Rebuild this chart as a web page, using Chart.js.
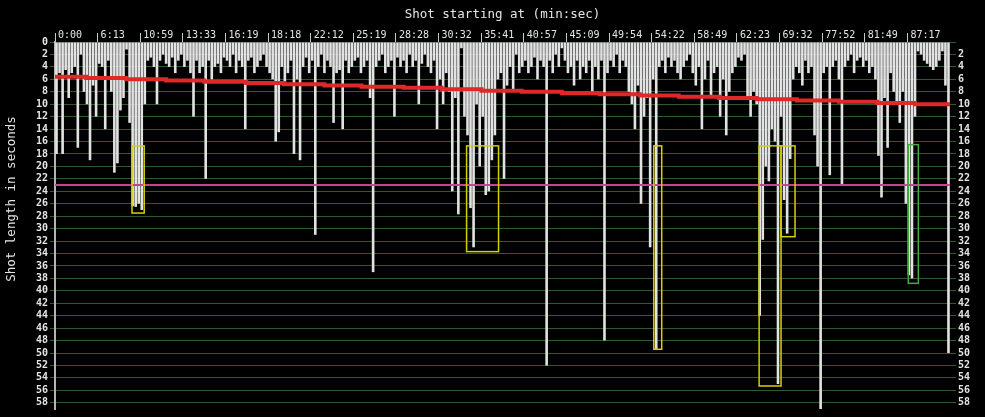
<!DOCTYPE html>
<html><head><meta charset="utf-8">
<script src="https://cdn.jsdelivr.net/npm/chart.js@4.4.1/dist/chart.umd.min.js"></script>
<style>html,body{margin:0;padding:0;background:#000;overflow:hidden}#wrap{width:985px;height:417px}</style>
</head><body><div id="wrap"><canvas id="c" width="985" height="417"></canvas></div>
<script>
// ---- data ----
const shotLengths = [
  18, 5, 18, 4.5, 9, 5, 4, 17, 2, 8, 10, 19, 7, 12,
  3.5, 4, 14, 3, 8, 21, 19.5, 11, 9, 1.2, 13, 26.4, 26.5, 26,
  27, 10, 3, 2.5, 4, 10, 3, 2, 3.5, 4, 2.5, 5, 3, 2,
  4, 3, 5, 12, 3, 5, 4, 22, 3, 6, 4, 3.5, 5, 2.5,
  3, 4, 2, 5, 3, 4, 14, 3, 2.5, 5, 4, 3, 2, 4,
  5, 6, 16, 14.5, 4, 7, 5, 3, 18, 6, 19, 4, 2.5, 5,
  3, 31, 4, 2, 5, 3, 4, 13, 5, 4.5, 14, 3, 5, 4,
  3, 2.5, 5, 4, 3, 9, 37, 4, 3, 2, 5, 4, 3, 12,
  2.5, 4, 3, 5, 2, 4, 3, 10, 3.5, 2, 4, 5, 3, 14,
  6, 10, 5, 8, 24, 9, 27.7, 1, 12, 15, 26.7, 33, 10, 20,
  12, 24.6, 24, 19, 15, 6, 5, 22, 7, 4, 8, 2, 5, 4,
  3, 5, 4, 2.5, 6, 3, 4, 52, 3, 5, 2, 4, 1, 3,
  5, 4, 7, 3, 6, 4, 5, 3, 8, 4, 6, 3, 48, 5,
  3, 4, 2, 5, 3, 4, 8, 10, 14, 7, 26, 12, 9, 33,
  6, 49.5, 4, 3, 5, 2.5, 4, 3, 5, 6, 4, 3, 2, 5,
  7, 4, 14, 6, 3, 9, 5, 4, 12, 6, 15, 8, 5, 4,
  2.5, 3, 2, 9, 12, 8, 10, 44, 31.8, 20, 22.4, 14, 16, 55,
  12, 25.4, 30.8, 18.8, 6, 4, 5, 7, 3, 5, 4, 15, 20, 59,
  5, 4, 21.4, 4, 3, 6, 22.9, 4, 3, 2, 5, 3, 2.5, 4,
  3, 5, 4, 6, 18.3, 25, 9, 17, 5, 8, 10, 13, 8, 26,
  37.5, 38, 12, 1.5, 2, 3, 3.5, 4, 4.5, 4, 3, 1.5, 7, 50
];
const topTickShots = [0, 14, 28, 42, 56, 70, 84, 98, 112, 126, 140, 154, 168, 182, 196, 210, 224, 238, 252, 266, 280];
const topTickLabels = ['0:00', '6:13', '10:59', '13:33', '16:19', '18:18', '22:12', '25:19', '28:28', '30:32', '35:41',
  '40:57', '45:09', '49:54', '54:22', '58:49', '62:23', '69:32', '77:52', '81:49', '87:17'];
const yTickValues = [0, 2, 4, 6, 8, 10, 12, 14, 16, 18, 20, 22, 24, 26, 28, 30, 32, 34, 36, 38, 40, 42, 44, 46, 48, 50, 52, 54, 56, 58];
const trendStart = [-0.5, 9.7, 22.9, 36, 48.5, 62.3, 74.8, 88, 100.2, 114, 126.5, 139.6, 152.8, 166, 178.4, 191.6, 204.4, 217.6, 230, 243.2, 257, 269.6, 282, 293.5];
const trendValue = [5.6, 5.8, 6.0, 6.2, 6.4, 6.6, 6.8, 7.0, 7.2, 7.35, 7.6, 7.85, 8.0, 8.25, 8.4, 8.6, 8.8, 9.0, 9.2, 9.4, 9.6, 9.8, 10.0, 10.0];
const thresholdValue = 23;
const boxStart = [24.8, 134.7, 196.2, 230.8, 238, 279.8];
const boxEnd = [28.8, 145.2, 198.8, 238, 242.6, 283.1];
const boxTop = [16.7, 16.7, 16.7, 16.7, 16.7, 16.5];
const boxBottom = [27.5, 33.7, 49.4, 55.3, 31.3, 38.8];
const boxGroup = ['a', 'a', 'a', 'a', 'a', 'b'];

// ---- styles ----
const MONO = '"DejaVu Sans Mono", "Liberation Mono", monospace';
const GRID = '#2f5a2f';
const TXT = '#e4e4e4';
const boxColors = { a: '#d6d000', b: '#44aa44' };
const xMin = -0.5, xMax = shotLengths.length - 0.5;

const bars = shotLengths.map((v, i) => ({ x: i, y: v }));
const trend = trendStart.map((s, i) => ({ x: s, y: trendValue[i] }));
const threshold = [{ x: xMin, y: thresholdValue }, { x: xMax, y: thresholdValue }];

const bgPlugin = {
  id: 'bg',
  beforeDraw(chart) {
    const c = chart.ctx; c.save(); c.fillStyle = '#000'; c.fillRect(0, 0, chart.width, chart.height); c.restore();
  }
};
const boxPlugin = {
  id: 'boxes',
  afterDatasetsDraw(chart) {
    const c = chart.ctx, xs = chart.scales.x, ys = chart.scales.y;
    c.save(); c.lineWidth = 1.5;
    for (let i = 0; i < boxStart.length; i++) {
      const x1 = xs.getPixelForValue(boxStart[i]), x2 = xs.getPixelForValue(boxEnd[i]);
      const y1 = ys.getPixelForValue(boxTop[i]), y2 = ys.getPixelForValue(boxBottom[i]);
      c.strokeStyle = boxColors[boxGroup[i]];
      c.strokeRect(x1, y1, x2 - x1, y2 - y1);
    }
    c.restore();
  }
};
const yTitlePlugin = {
  id: 'ytitle',
  afterDraw(chart) {
    const c = chart.ctx; c.save();
    c.translate(12, 199); c.rotate(-Math.PI / 2);
    c.fillStyle = TXT; c.font = '12.5px ' + MONO; c.textAlign = 'center'; c.textBaseline = 'middle';
    c.fillText('Shot length in seconds', 0, 0);
    c.restore();
  }
};

const yCommon = (pos) => ({
  type: 'linear', position: pos, reverse: true, min: 0, max: 59,
  afterBuildTicks: s => { s.ticks = yTickValues.map(v => ({ value: v })); },
  ticks: { color: TXT, font: { family: MONO, size: 10, weight: 'bold' }, padding: 2, autoSkip: false,
    callback: v => (pos === 'right' && v === 0) ? '' : String(v) },
});

new Chart(document.getElementById('c').getContext('2d'), {
  type: 'bar',
  data: {
    datasets: [
      { type: 'line', data: trend, borderColor: '#e02828', borderWidth: 4, stepped: 'before', pointRadius: 0, order: 0, yAxisID: 'y' },
      { type: 'line', data: threshold, borderColor: '#c2468e', borderWidth: 2, pointRadius: 0, order: 1, yAxisID: 'y' },
      { type: 'bar', data: bars, backgroundColor: '#e2e2e2', borderWidth: 0, barPercentage: 0.86, categoryPercentage: 1, order: 2, yAxisID: 'y' }
    ]
  },
  options: {
    responsive: false, animation: false, devicePixelRatio: 1,
    layout: { padding: { left: 0, right: 0, top: 0, bottom: 4 } },
    plugins: { legend: { display: false }, tooltip: { enabled: false } },
    scales: {
      x: {
        type: 'linear', position: 'top', min: xMin, max: xMax, offset: false,
        afterBuildTicks: s => { s.ticks = topTickShots.map(v => ({ value: v - 0.5 })); },
        afterFit: s => { s.height = 42; },
        ticks: { callback: (v, i) => topTickLabels[i], align: 'start', labelOffset: 3, padding: -8.5,
          color: TXT, font: { family: MONO, size: 10 }, maxRotation: 0, minRotation: 0, autoSkip: false },
        grid: { drawOnChartArea: false, drawTicks: true, tickLength: 9, color: '#c8c8c8', offset: false },
        border: { display: false },
        title: { display: true, text: 'Shot starting at (min:sec)', color: TXT, font: { family: MONO, size: 12.5 }, padding: { top: 7.5, bottom: 0 } }
      },
      y: Object.assign(yCommon('left'), {
        afterFit: s => { s.width = 55; },
        grid: { color: GRID, lineWidth: 1, tickLength: 5, drawTicks: true },
        border: { display: true, color: '#b4b4b4', width: 2 }
      }),
      y2: Object.assign(yCommon('right'), {
        afterFit: s => { s.width = 35; },
        grid: { drawOnChartArea: false, color: GRID, tickLength: 6, drawTicks: true },
        border: { display: false }
      })
    }
  },
  plugins: [bgPlugin, boxPlugin, yTitlePlugin]
});
</script>
</body></html>
